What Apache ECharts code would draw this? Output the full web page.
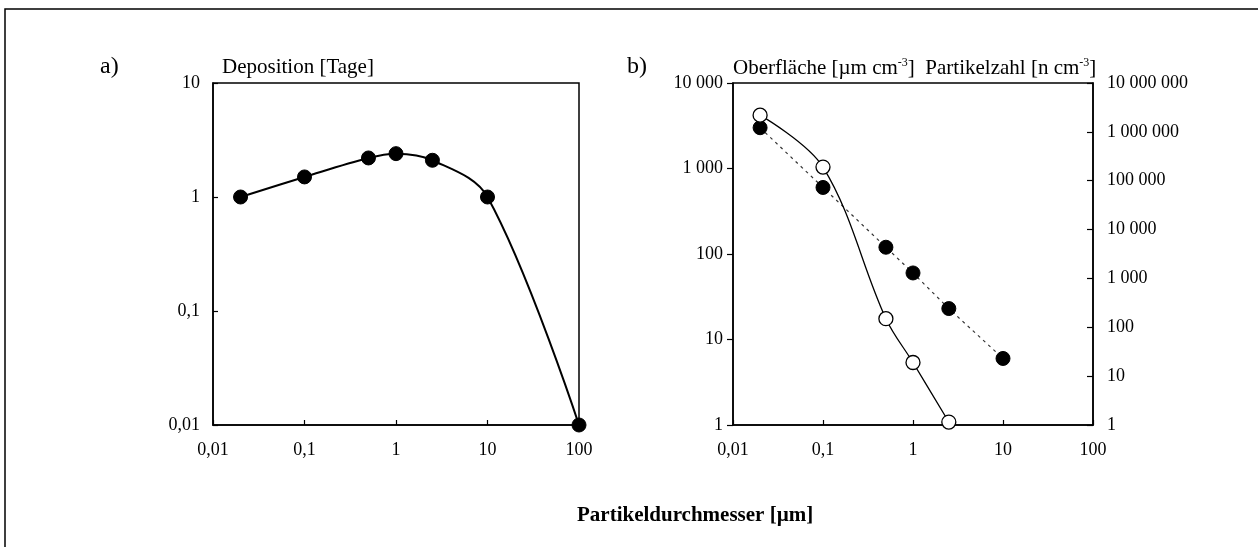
<!DOCTYPE html>
<html>
<head>
<meta charset="utf-8">
<script src="https://cdn.jsdelivr.net/npm/echarts@6/dist/echarts.min.js"></script>
<style>
html,body{margin:0;padding:0;background:#fff;}
#chart{width:1258px;height:547px;}
</style>
</head>
<body>
<div id="chart"></div>
<script>
// ---- data ----
const diameterA = [0.02, 0.1, 0.5, 1, 2.5, 10, 100];
const depositionDays = [1, 1.5, 2.2, 2.4, 2.1, 1, 0.01];

const diameterB = [0.02, 0.1, 0.5, 1, 2.5, 10];
const surfaceArea = [3000, 600, 120, 60, 23, 6];          // filled circles, left axis
const diameterN = [0.02, 0.1, 0.5, 1, 2.5];
const particleCount = [2200000, 190000, 150, 19, 1.15];   // open circles, right axis

const xTickLabels = ['0,01', '0,1', '1', '10', '100'];
const aTickLabels = ['0,01', '0,1', '1', '10'];
const bLeftTickLabels = ['1', '10', '100', '1 000', '10 000'];
const bRightTickLabels = ['1', '10', '100', '1 000', '10 000', '100 000', '1 000 000', '10 000 000'];

// ---- helpers ----
const FONT = '"Liberation Serif", "Times New Roman", serif';
function labelFrom(arr, minExp) {
  return function (v) {
    const e = Math.round(Math.log10(v));
    return arr[e - minExp] !== undefined ? arr[e - minExp] : '';
  };
}
function pairs(xs, ys) { return xs.map((x, i) => [x, ys[i]]); }

const axisLineStyle = { color: '#000', width: 1.5 };
const tickLabel = { fontFamily: FONT, fontSize: 18, color: '#000' };

const chart = echarts.init(document.getElementById('chart'), null, { renderer: 'canvas' });

const option = {
  animation: false,
  backgroundColor: '#fff',
  title: [
    { text: 'a)', left: 95, top: 50, textStyle: { fontFamily: FONT, fontSize: 24, fontWeight: 'normal', color: '#000' } },
    { text: 'Deposition [Tage]', left: 217, top: 52, textStyle: { fontFamily: FONT, fontSize: 21, fontWeight: 'normal', color: '#000' } },
    { text: 'b)', left: 622, top: 50, textStyle: { fontFamily: FONT, fontSize: 24, fontWeight: 'normal', color: '#000' } },
    {
      text: 'Oberfläche [µm cm{sup|-3}]  Partikelzahl [n cm{sup|-3}]',
      left: 728, top: 52,
      textStyle: {
        fontFamily: FONT, fontSize: 21, fontWeight: 'normal', color: '#000',
        rich: { sup: { fontFamily: FONT, fontSize: 12, verticalAlign: 'top', padding: [0, 0, 10, 0], color: '#000' } }
      }
    },
    { text: 'Partikeldurchmesser [µm]', left: 572, top: 500, textStyle: { fontFamily: FONT, fontSize: 21, fontWeight: 'bold', color: '#000' } }
  ],
  graphic: [
    { type: 'rect', shape: { x: 5, y: 9, width: 1300, height: 600 }, style: { fill: 'none', stroke: '#000', lineWidth: 1.5 }, silent: true }
  ],
  grid: [
    { left: 213, top: 83, width: 366, height: 342, show: true, borderColor: '#000', borderWidth: 1.5, backgroundColor: 'transparent' },
    { left: 733, top: 83, width: 360, height: 342, show: true, borderColor: '#000', borderWidth: 1.5, backgroundColor: 'transparent' }
  ],
  xAxis: [
    {
      type: 'log', logBase: 10, gridIndex: 0, min: 0.01, max: 100, splitNumber: 4,
      axisLine: { lineStyle: axisLineStyle },
      axisTick: { inside: true, length: 5, lineStyle: { color: '#000', width: 1.2 } },
      axisLabel: Object.assign({ margin: 16, formatter: labelFrom(xTickLabels, -2) }, tickLabel),
      splitLine: { show: false }, minorTick: { show: false }
    },
    {
      type: 'log', logBase: 10, gridIndex: 1, min: 0.01, max: 100, splitNumber: 4,
      axisLine: { lineStyle: axisLineStyle },
      axisTick: { inside: true, length: 5, lineStyle: { color: '#000', width: 1.2 } },
      axisLabel: Object.assign({ margin: 16, formatter: labelFrom(xTickLabels, -2) }, tickLabel),
      splitLine: { show: false }
    }
  ],
  yAxis: [
    {
      type: 'log', logBase: 10, gridIndex: 0, min: 0.01, max: 10, splitNumber: 3,
      axisLine: { show: true, lineStyle: axisLineStyle },
      axisTick: { show: true, inside: true, length: 5, lineStyle: { color: '#000', width: 1.2 } },
      axisLabel: Object.assign({ margin: 13, formatter: labelFrom(aTickLabels, -2) }, tickLabel),
      splitLine: { show: false }
    },
    {
      type: 'log', logBase: 10, gridIndex: 1, min: 1, max: 10000, splitNumber: 4,
      axisLine: { show: true, lineStyle: axisLineStyle },
      axisTick: { show: true, inside: false, length: 6, lineStyle: { color: '#000', width: 1.2 } },
      axisLabel: Object.assign({ margin: 10, formatter: labelFrom(bLeftTickLabels, 0) }, tickLabel),
      splitLine: { show: false }
    },
    {
      type: 'log', logBase: 10, gridIndex: 1, position: 'right', min: 1, max: 10000000, splitNumber: 7,
      axisLine: { show: true, lineStyle: axisLineStyle },
      axisTick: { show: true, inside: true, length: 6, lineStyle: { color: '#000', width: 1.2 } },
      axisLabel: Object.assign({ margin: 14, align: 'left', formatter: labelFrom(bRightTickLabels, 0) }, tickLabel),
      splitLine: { show: false }
    }
  ],
  series: [
    {
      name: 'Deposition', type: 'line', xAxisIndex: 0, yAxisIndex: 0,
      data: pairs(diameterA, depositionDays),
      smooth: 0.35,
      lineStyle: { color: '#000', width: 2 },
      symbol: 'circle', symbolSize: 14,
      itemStyle: { color: '#000', borderColor: '#000' },
      z: 3
    },
    {
      name: 'Oberfläche', type: 'line', xAxisIndex: 1, yAxisIndex: 1,
      data: pairs(diameterB, surfaceArea),
      lineStyle: { color: '#333', width: 1.2, type: [3, 4] },
      symbol: 'circle', symbolSize: 14,
      itemStyle: { color: '#000', borderColor: '#000' },
      z: 3
    },
    {
      name: 'Partikelzahl', type: 'line', xAxisIndex: 1, yAxisIndex: 2,
      data: pairs(diameterN, particleCount),
      smooth: 0.35,
      lineStyle: { color: '#000', width: 1.3 },
      symbol: 'circle', symbolSize: 14,
      itemStyle: { color: '#fff', borderColor: '#000', borderWidth: 1.3 },
      z: 4
    }
  ]
};
chart.setOption(option);
</script>
</body>
</html>
